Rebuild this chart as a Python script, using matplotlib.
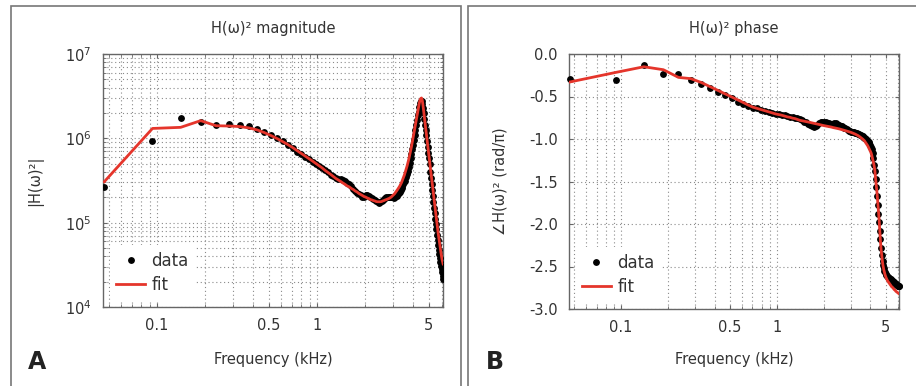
import numpy as np
import matplotlib.pyplot as plt
from matplotlib.ticker import FixedLocator, FixedFormatter, LogLocator, NullFormatter, MultipleLocator
from matplotlib.patches import Rectangle

# FFT bin spacing of the measurement (kHz); bins 1..131
bin_khz = 0.046875
freq = np.arange(1, 132) * bin_khz

mag_data = [
    2.65e5, 9.37e5, 1.74e6, 1.57e6, 1.44e6, 1.49e6, 1.45e6, 1.39e6, 1.30e6, 1.19e6,
    1.10e6, 1.02e6, 9.3e5, 8.3e5, 7.7e5, 6.98e5, 6.52e5, 6.05e5, 5.69e5, 5.31e5,
    4.96e5, 4.70e5, 4.45e5, 4.21e5, 3.94e5, 3.67e5, 3.53e5, 3.39e5, 3.30e5, 3.27e5,
    3.21e5, 3.12e5, 2.99e5, 2.87e5, 2.72e5, 2.54e5, 2.37e5, 2.25e5, 2.16e5, 2.10e5,
    2.04e5, 2.04e5, 2.10e5, 2.10e5, 2.07e5, 2.01e5, 1.96e5, 1.93e5, 1.88e5, 1.81e5,
    1.76e5, 1.73e5, 1.76e5, 1.81e5, 1.88e5, 1.93e5, 1.96e5, 1.99e5, 2.01e5, 2.04e5,
    2.04e5, 2.03e5, 2.01e5, 1.99e5, 1.96e5, 1.99e5, 2.07e5, 2.16e5, 2.25e5, 2.33e5,
    2.44e5, 2.58e5, 2.72e5, 2.87e5, 3.03e5, 3.16e5, 3.48e5, 3.78e5, 4.10e5, 4.57e5,
    5.09e5, 5.84e5, 6.52e5, 7.46e5, 8.34e5, 9.55e5, 1.09e6, 1.26e6, 1.44e6, 1.65e6,
    1.87e6, 2.05e6, 2.35e6, 2.62e6, 2.77e6, 2.77e6, 2.55e6, 2.29e6, 2.00e6, 1.69e6,
    1.44e6, 1.26e6, 1.09e6, 9.3e5, 7.9e5, 6.70e5, 5.84e5, 4.96e5, 3.99e5, 3.39e5,
    2.87e5, 2.44e5, 2.07e5, 1.76e5, 1.49e5, 1.30e5, 1.10e5, 9.6e4, 8.4e4, 7.1e4,
    6.2e4, 5.4e4, 4.7e4, 4.2e4, 3.8e4, 3.4e4, 3.06e4, 2.82e4, 2.60e4, 2.33e4,
    2.15e4]

mag_fit = [
    3.06e5, 1.31e6, 1.35e6, 1.62e6, 1.41e6, 1.40e6, 1.38e6, 1.33e6, 1.26e6, 1.17e6,
    1.08e6, 9.95e5, 9.17e5, 8.45e5, 7.79e5, 7.17e5, 6.61e5, 6.17e5, 5.76e5, 5.38e5,
    5.03e5, 4.70e5, 4.45e5, 4.16e5, 3.94e5, 3.73e5, 3.53e5, 3.34e5, 3.21e5, 3.08e5,
    2.95e5, 2.84e5, 2.72e5, 2.65e5, 2.54e5, 2.47e5, 2.37e5, 2.31e5, 2.22e5, 2.16e5,
    2.10e5, 2.04e5, 2.01e5, 1.96e5, 1.93e5, 1.88e5, 1.86e5, 1.83e5, 1.81e5, 1.78e5,
    1.77e5, 1.77e5, 1.77e5, 1.78e5, 1.81e5, 1.83e5, 1.86e5, 1.88e5, 1.91e5, 1.93e5,
    1.97e5, 2.01e5, 2.07e5, 2.13e5, 2.19e5, 2.28e5, 2.37e5, 2.47e5, 2.58e5, 2.69e5,
    2.84e5, 2.99e5, 3.21e5, 3.44e5, 3.67e5, 3.99e5, 4.33e5, 4.70e5, 5.17e5, 5.69e5,
    6.34e5, 7.08e5, 7.9e5, 8.93e5, 1.01e6, 1.14e6, 1.29e6, 1.46e6, 1.65e6, 1.87e6,
    2.11e6, 2.35e6, 2.62e6, 2.85e6, 2.97e6, 3.01e6, 2.85e6, 2.48e6, 2.11e6, 1.79e6,
    1.52e6, 1.33e6, 1.14e6, 9.82e5, 8.34e5, 7.27e5, 6.17e5, 5.38e5, 4.57e5, 3.99e5,
    3.44e5, 2.95e5, 2.54e5, 2.22e5, 1.91e5, 1.66e5, 1.45e5, 1.27e5, 1.10e5, 9.6e4,
    8.5e4, 7.5e4, 6.7e4, 6.0e4, 5.4e4, 4.9e4, 4.4e4, 4.0e4, 3.66e4, 3.42e4,
    3.24e4]

# phase in units of pi
phase_data = [
    -0.29, -0.30, -0.13, -0.23, -0.235, -0.30, -0.355, -0.40, -0.45, -0.485,
    -0.52, -0.56, -0.59, -0.615, -0.63, -0.64, -0.655, -0.665, -0.68, -0.69,
    -0.70, -0.705, -0.712, -0.72, -0.73, -0.737, -0.744, -0.75, -0.758, -0.765,
    -0.78, -0.795, -0.805, -0.82, -0.835, -0.85, -0.855, -0.85, -0.83, -0.81,
    -0.80, -0.795, -0.795, -0.80, -0.81, -0.815, -0.82, -0.825, -0.82, -0.815,
    -0.815, -0.82, -0.83, -0.84, -0.845, -0.85, -0.855, -0.865, -0.875, -0.885,
    -0.895, -0.905, -0.91, -0.912, -0.915, -0.918, -0.92, -0.925, -0.93, -0.935,
    -0.94, -0.945, -0.95, -0.955, -0.96, -0.965, -0.975, -0.985, -0.99, -1.00,
    -1.01, -1.02, -1.03, -1.05, -1.07, -1.09, -1.12, -1.16, -1.22, -1.30,
    -1.38, -1.47, -1.57, -1.67, -1.78, -1.88, -1.98, -2.08, -2.18, -2.28,
    -2.36, -2.43, -2.48, -2.52, -2.55, -2.57, -2.59, -2.60, -2.61, -2.62,
    -2.625, -2.63, -2.64, -2.645, -2.65, -2.66, -2.665, -2.67, -2.675, -2.68,
    -2.69, -2.695, -2.70, -2.705, -2.71, -2.715, -2.72, -2.725, -2.73, -2.73,
    -2.73]

phase_fit = [
    -0.33, -0.215, -0.15, -0.185, -0.275, -0.29, -0.335, -0.385, -0.43, -0.47,
    -0.505, -0.54, -0.57, -0.60, -0.625, -0.64, -0.655, -0.668, -0.68, -0.693,
    -0.705, -0.713, -0.72, -0.73, -0.74, -0.745, -0.755, -0.76, -0.77, -0.78,
    -0.785, -0.79, -0.795, -0.80, -0.805, -0.81, -0.815, -0.82, -0.825, -0.83,
    -0.835, -0.84, -0.843, -0.847, -0.85, -0.853, -0.857, -0.86, -0.865, -0.868,
    -0.872, -0.875, -0.878, -0.882, -0.886, -0.89, -0.894, -0.898, -0.902, -0.906,
    -0.91, -0.914, -0.918, -0.922, -0.927, -0.932, -0.937, -0.942, -0.948, -0.954,
    -0.96, -0.967, -0.975, -0.983, -0.992, -1.00, -1.01, -1.02, -1.035, -1.05,
    -1.065, -1.08, -1.10, -1.12, -1.14, -1.16, -1.19, -1.23, -1.27, -1.31,
    -1.365, -1.46, -1.55, -1.63, -1.73, -1.84, -1.95, -2.08, -2.21, -2.31,
    -2.38, -2.45, -2.50, -2.54, -2.57, -2.60, -2.62, -2.64, -2.655, -2.67,
    -2.68, -2.69, -2.70, -2.71, -2.72, -2.73, -2.74, -2.745, -2.75, -2.76,
    -2.77, -2.775, -2.78, -2.79, -2.795, -2.80, -2.805, -2.81, -2.815, -2.82,
    -2.825]

freq_ticks = [0.1, 0.5, 1, 5]
freq_labels = ['0.1', '0.5', '1', '5']
phase_ticks = [0.0, -0.5, -1.0, -1.5, -2.0, -2.5, -3.0]

txt = '#333333'
red = '#e5352b'
grid_kw = dict(ls=(0, (1, 2.5)), color='#8a8a8a', lw=0.8)

plt.rcParams['font.family'] = ['DejaVu Sans']
plt.rcParams['font.size'] = 10.5

fig = plt.figure(figsize=(9.16, 3.86), dpi=100)
axA = fig.add_axes([103 / 916, 79 / 386, 340 / 916, 253 / 386])
axB = fig.add_axes([569 / 916, 77 / 386, 330 / 916, 255 / 386])


def style_freq_axis(ax, xlim):
    ax.set_xscale('log')
    ax.set_xlim(*xlim)
    ax.xaxis.set_major_locator(FixedLocator(freq_ticks))
    ax.xaxis.set_major_formatter(FixedFormatter(freq_labels))
    ax.xaxis.set_minor_locator(LogLocator(base=10, subs=np.arange(2, 10)))
    ax.xaxis.set_minor_formatter(NullFormatter())
    ax.grid(True, which='both', axis='x', **grid_kw)
    for s in ax.spines.values():
        s.set_color('#666666')
        s.set_linewidth(1.0)
    ax.tick_params(which='both', direction='in', top=True, right=True,
                   colors='#666666', labelcolor=txt, labelsize=10.5)
    ax.tick_params(which='major', length=3, pad=8)
    ax.tick_params(which='minor', length=2)
    ax.set_axisbelow(True)


def add_legend(ax):
    leg = ax.legend(loc='lower left', bbox_to_anchor=(0, 0), borderaxespad=0.4,
                    fontsize=12, handlelength=1.7, handletextpad=0.4, labelspacing=0.35,
                    frameon=True, facecolor='white', edgecolor='none', framealpha=1)
    for t in leg.get_texts():
        t.set_color(txt)


# --- A: magnitude
ax = axA
ax.plot(freq, mag_data, 'o', color='black', ms=3.9, label='data', zorder=3)
ax.plot(freq, mag_fit, '-', color=red, lw=2.0, label='fit', zorder=4)
style_freq_axis(ax, (0.046, 6.13))
ax.set_yscale('log')
ax.set_ylim(1e4, 1e7)
ax.yaxis.set_major_locator(FixedLocator([1e4, 1e5, 1e6, 1e7]))
ax.yaxis.set_major_formatter(FixedFormatter(['$10^{4}$', '$10^{5}$', '$10^{6}$', '$10^{7}$']))
ax.yaxis.set_minor_locator(LogLocator(base=10, subs=np.arange(2, 10)))
ax.yaxis.set_minor_formatter(NullFormatter())
ax.grid(True, which='both', axis='y', **grid_kw)
ax.set_title('H(ω)² magnitude', pad=15, color=txt, fontsize=10.5)
ax.set_xlabel('Frequency (kHz)', color=txt)
ax.xaxis.set_label_coords(0.5, -0.178)
ax.set_ylabel('|H(ω)²|', color=txt)
ax.yaxis.set_label_coords(-0.176, 0.5)
add_legend(ax)

# --- B: phase
ax = axB
ax.plot(freq, phase_data, 'o', color='black', ms=3.9, label='data', zorder=3, clip_on=False)
ax.plot(freq, phase_fit, '-', color=red, lw=2.0, label='fit', zorder=4)
style_freq_axis(ax, (0.0465, 6.1))
ax.set_ylim(-3.0, 0.0)
ax.yaxis.set_major_locator(FixedLocator(phase_ticks))
ax.yaxis.set_major_formatter(FixedFormatter([f'{v:.1f}' for v in phase_ticks]))
ax.grid(True, which='major', axis='y', **grid_kw)
ax.set_title('H(ω)² phase', pad=15, color=txt, fontsize=10.5)
ax.set_xlabel('Frequency (kHz)', color=txt)
ax.xaxis.set_label_coords(0.5, -0.169)
ax.set_ylabel('∠H(ω)² (rad/π)', color=txt)
ax.yaxis.set_label_coords(-0.185, 0.5)
add_legend(ax)

# panel frames and letters
fig.add_artist(Rectangle((11 / 916, -0.05), 450 / 916, 1.05 - 6 / 386,
                         transform=fig.transFigure, fill=False, ec='#777777', lw=1.2))
fig.add_artist(Rectangle((468 / 916, -0.05), 0.6, 1.05 - 6 / 386,
                         transform=fig.transFigure, fill=False, ec='#777777', lw=1.2))
fig.text(37 / 916, 1 - 362 / 386, 'A', fontsize=17, fontweight='bold', ha='center', va='center', color='#222222')
fig.text(495 / 916, 1 - 362 / 386, 'B', fontsize=17, fontweight='bold', ha='center', va='center', color='#222222')

fig.savefig('out.png', dpi=100)
